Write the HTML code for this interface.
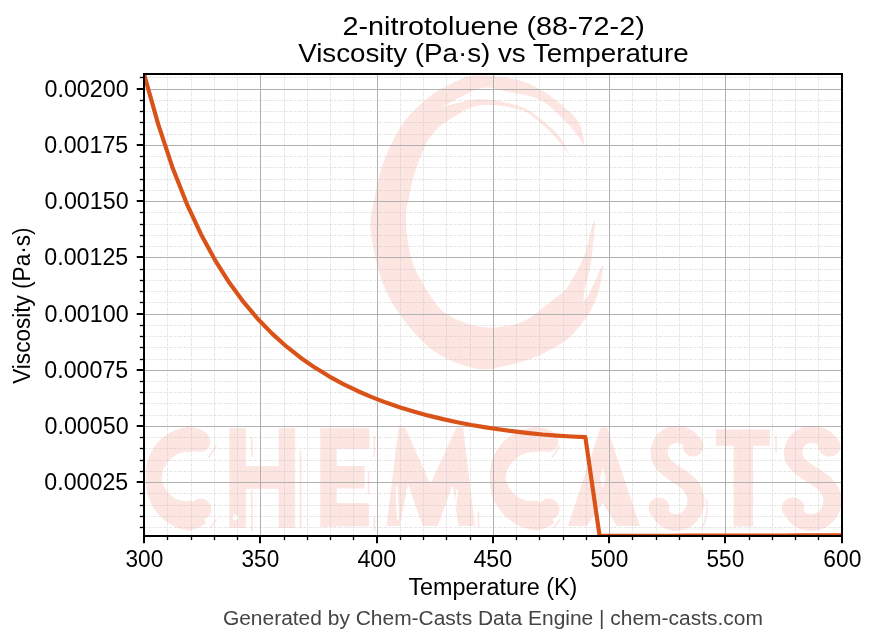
<!DOCTYPE html><html><head><meta charset="utf-8"><style>html,body{margin:0;padding:0;background:#fff;overflow:hidden}svg{display:block;will-change:transform}text{font-family:"Liberation Sans",sans-serif}</style></head><body>
<svg width="876" height="644" viewBox="0 0 876 644">
<defs><clipPath id="ax"><rect x="144.00" y="73.90" width="698.00" height="462.00"/></clipPath></defs>
<rect width="876" height="644" fill="#fff"/>
<g clip-path="url(#ax)">
<g fill="#fde5e1">
<path d="M585.0 148.6C584.1 144.4 583.0 130.6 579.4 123.6C575.8 116.6 570.2 112.1 563.6 106.4C557.0 100.7 548.1 93.8 539.8 89.2C531.5 84.6 524.5 81.3 514.0 79.0C503.5 76.7 485.8 75.3 476.7 75.5C467.6 75.7 466.8 76.7 459.3 79.9C451.9 83.1 440.9 88.2 432.0 94.8C423.1 101.4 412.7 111.3 405.9 119.6C399.1 127.9 395.1 136.2 391.0 144.5C386.9 152.8 383.7 161.0 381.1 169.3C378.5 177.6 377.2 184.8 375.4 194.1C373.6 203.4 370.5 214.5 370.5 225.0C370.5 235.5 373.4 247.7 375.4 257.2C377.4 266.7 379.1 273.7 382.3 282.0C385.5 290.3 389.5 298.6 394.7 306.9C399.9 315.2 406.8 324.3 413.4 331.7C420.0 339.1 426.9 346.1 434.5 351.5C442.1 356.9 451.0 361.0 459.3 364.0C467.6 367.0 476.7 369.1 484.1 369.5C491.6 369.9 496.0 367.9 504.0 366.1C512.0 364.3 522.6 362.1 531.9 358.5C541.2 354.9 552.9 348.7 559.9 344.5C566.9 340.3 569.1 338.2 573.8 333.3C578.4 328.4 584.1 320.9 587.8 315.1C591.5 309.3 594.2 303.1 596.2 298.4C598.2 293.7 598.4 292.6 599.7 287.0C601.0 281.4 603.1 268.7 603.8 265.0C603.3 265.6 602.2 265.3 600.6 268.4C599.0 271.4 596.3 278.6 594.1 283.3C591.9 288.0 589.4 293.4 587.6 296.3C585.8 299.2 584.2 300.2 583.5 301.0C583.7 299.0 583.8 293.9 584.8 288.8C585.8 283.7 588.2 276.4 589.5 270.2C590.8 264.0 591.4 258.6 592.3 251.6C593.1 244.6 594.3 233.3 594.6 228.0C594.9 222.7 594.2 220.9 594.1 219.5C593.5 221.6 591.9 226.7 590.5 232.0C589.1 237.3 587.9 245.2 585.7 251.6C583.5 258.0 580.6 264.0 577.4 270.2C574.1 276.4 569.9 284.1 566.2 288.8C562.5 293.5 558.4 295.4 555.0 298.2C551.6 301.0 549.8 302.3 545.9 305.4C542.0 308.4 536.6 313.5 531.9 316.5C527.2 319.5 522.5 321.9 517.9 323.5C513.2 325.1 508.6 325.6 504.0 326.3C499.4 327.0 495.8 328.1 490.0 327.7C484.2 327.3 476.4 326.4 469.2 324.2C462.0 322.0 452.7 318.0 446.9 314.3C441.1 310.6 438.6 307.3 434.5 301.9C430.4 296.5 425.9 289.4 422.0 282.0C418.1 274.6 413.6 267.5 410.9 257.2C408.2 246.9 406.1 230.5 405.9 220.0C405.7 209.5 408.0 202.5 409.6 194.1C411.2 185.7 413.1 177.6 415.8 169.3C418.5 161.0 422.7 150.7 425.8 144.5C428.9 138.3 430.6 136.2 434.5 132.0C438.4 127.8 441.8 124.1 449.4 119.6C457.0 115.1 468.2 106.8 480.0 105.2C491.8 103.6 510.0 106.9 520.0 109.7C530.0 112.5 533.2 116.8 539.8 122.2C546.4 127.6 554.4 136.1 559.6 142.0C564.8 147.9 568.9 155.2 570.8 157.9C568.9 154.4 564.8 143.4 559.6 136.8C554.4 130.2 546.4 123.4 539.8 118.3C533.2 113.2 530.0 109.6 520.0 106.4C510.0 103.2 493.0 99.2 480.0 99.3C467.0 99.4 448.2 105.9 441.9 107.2C448.2 104.1 469.5 91.3 480.0 88.6C490.5 85.9 494.8 89.2 504.8 91.1C514.8 93.0 530.0 95.0 539.8 99.8C549.6 104.5 557.0 113.2 563.6 119.6C570.2 126.0 575.8 133.2 579.4 138.0C583.0 142.8 584.1 146.8 585.0 148.6Z"/>
<path d="M204.4 431.4 L203.0 430.7 L201.6 430.1 L200.2 429.6 L198.7 429.0 L197.3 428.6 L195.8 428.2 L194.3 427.8 L192.8 427.5 L191.2 427.2 L189.7 427.0 L188.1 427.1 L186.6 427.3 L185.0 427.5 L183.5 427.8 L182.0 428.1 L180.5 428.5 L179.0 428.9 L177.6 429.4 L176.1 429.9 L174.7 430.4 L173.3 431.0 L171.9 431.7 L170.5 432.4 L169.2 433.1 L167.8 433.9 L166.5 434.7 L165.3 435.6 L164.1 436.5 L162.9 437.5 L161.7 438.5 L160.6 439.5 L159.5 440.5 L158.4 441.6 L157.4 442.8 L156.4 443.9 L155.4 445.1 L154.6 446.4 L153.7 447.6 L152.9 448.9 L152.1 450.2 L151.4 451.6 L150.7 452.9 L150.1 454.3 L149.5 455.7 L148.9 457.1 L148.4 458.5 L148.0 459.9 L147.6 461.4 L147.2 462.8 L146.9 464.3 L146.6 465.8 L146.4 467.2 L146.2 468.7 L146.1 470.2 L146.0 471.7 L145.9 473.2 L145.9 474.6 L146.0 476.1 L146.0 477.6 L145.9 479.0 L145.9 480.5 L145.9 482.0 L145.9 483.5 L146.0 485.0 L146.1 486.4 L146.3 487.9 L146.5 489.4 L146.7 490.9 L147.0 492.4 L147.4 493.8 L147.8 495.3 L148.2 496.7 L148.7 498.2 L149.3 499.6 L149.9 501.0 L150.5 502.4 L151.2 503.8 L151.9 505.1 L152.6 506.4 L153.4 507.7 L154.3 509.0 L155.2 510.3 L156.1 511.5 L157.1 512.7 L158.1 513.9 L159.1 515.1 L160.2 516.2 L161.3 517.3 L162.4 518.4 L163.6 519.4 L164.8 520.4 L166.1 521.4 L167.4 522.3 L168.7 523.2 L170.0 524.0 L171.4 524.8 L172.8 525.5 L174.3 526.2 L175.7 526.9 L177.2 527.5 L178.7 528.0 L180.3 528.5 L181.8 529.0 L183.4 529.4 L185.0 529.7 L186.6 530.0 L188.2 530.3 L189.8 530.5 L191.4 530.1 L193.0 529.6 L194.6 529.1 L196.1 528.6 L197.7 527.9 L199.1 527.3 L200.6 526.6 L202.0 525.8 L203.3 525.0 L204.7 524.1 L206.0 523.3 L198.7 503.2 L197.8 503.1 L196.9 502.9 L196.0 502.8 L195.2 502.6 L194.4 502.4 L193.6 502.1 L192.8 501.9 L192.0 501.5 L191.3 501.2 L190.6 500.9 L189.9 500.5 L189.2 500.7 L188.5 500.8 L187.8 500.9 L187.1 501.0 L186.4 501.0 L185.7 501.0 L184.9 501.0 L184.2 501.0 L183.5 501.0 L182.7 500.9 L182.0 500.8 L181.2 500.6 L180.5 500.5 L179.7 500.3 L179.0 500.1 L178.3 499.8 L177.5 499.5 L176.8 499.2 L176.1 498.9 L175.3 498.5 L174.6 498.2 L173.9 497.7 L173.2 497.3 L172.5 496.8 L171.8 496.3 L171.2 495.8 L170.5 495.2 L169.9 494.6 L169.3 494.0 L168.7 493.4 L168.1 492.7 L167.6 492.0 L167.1 491.3 L166.5 490.6 L166.0 489.8 L165.6 489.1 L165.1 488.3 L164.7 487.5 L164.3 486.6 L163.9 485.8 L163.5 484.9 L163.2 484.0 L162.9 483.2 L162.6 482.3 L162.3 481.3 L162.1 480.4 L161.9 479.5 L161.7 478.5 L161.6 477.5 L161.7 476.6 L161.8 475.6 L162.0 474.7 L162.2 473.7 L162.5 472.8 L162.7 471.9 L163.0 471.0 L163.3 470.1 L163.7 469.2 L164.0 468.4 L164.4 467.5 L164.8 466.7 L165.3 465.9 L165.7 465.1 L166.2 464.4 L166.7 463.6 L167.2 462.9 L167.8 462.2 L168.4 461.5 L168.9 460.8 L169.5 460.2 L170.1 459.6 L170.8 459.0 L171.4 458.4 L172.1 457.8 L172.7 457.3 L173.4 456.8 L174.1 456.3 L174.7 455.8 L175.4 455.4 L176.2 454.9 L176.9 454.6 L177.6 454.2 L178.3 453.8 L179.1 453.5 L179.8 453.3 L180.6 453.0 L181.4 452.8 L182.1 452.6 L182.9 452.4 L183.7 452.2 L184.4 452.1 L185.2 452.0 L186.0 451.9 L186.8 451.9 L187.5 451.9 L188.3 451.9 L189.1 451.9 L189.8 452.0 L190.6 451.8 L191.4 451.7 L192.1 451.5 L192.9 451.4 L193.7 451.3 L194.5 451.3 L195.4 451.2 L196.2 451.3 L197.0 451.3 L197.9 451.3Z"/>
<rect x="229.4" y="428.2" width="16.4" height="99.7"/><rect x="278.7" y="428.2" width="16.4" height="99.7"/><rect x="245" y="466.2" width="34" height="22.6"/>
<rect x="320.3" y="428.2" width="16.4" height="98.6"/><rect x="336" y="428.2" width="33.6" height="20.6"/><rect x="336" y="466" width="28.5" height="22.5"/><rect x="336" y="503" width="33" height="23.4"/>
<path d="M386.5 526 L398.6 427.5 L405.2 427.5 L430.3 484.3 L456.4 427.5 L463 427.5 L475 526 L458.3 526 L452.7 484.3 L437.8 526 L422.9 526 L408 484.3 L399.6 526Z"/>
<path d="M552.5 431.4 L551.0 430.7 L549.5 430.1 L548.0 429.6 L546.5 429.0 L544.9 428.6 L543.3 428.2 L541.7 427.8 L540.1 427.5 L538.5 427.2 L536.8 427.0 L535.2 427.1 L533.5 427.3 L531.9 427.5 L530.3 427.8 L528.7 428.1 L527.1 428.5 L525.5 428.9 L523.9 429.4 L522.4 429.9 L520.8 430.4 L519.3 431.0 L517.9 431.7 L516.4 432.4 L515.0 433.1 L513.6 433.9 L512.2 434.7 L510.8 435.6 L509.5 436.5 L508.3 437.5 L507.0 438.5 L505.8 439.5 L504.6 440.5 L503.5 441.6 L502.4 442.8 L501.3 443.9 L500.3 445.1 L499.4 446.4 L498.5 447.6 L497.6 448.9 L496.8 450.2 L496.0 451.6 L495.2 452.9 L494.6 454.3 L493.9 455.7 L493.3 457.1 L492.8 458.5 L492.3 459.9 L491.8 461.4 L491.4 462.8 L491.1 464.3 L490.8 465.8 L490.5 467.2 L490.3 468.7 L490.2 470.2 L490.1 471.7 L490.0 473.2 L490.0 474.6 L490.1 476.1 L490.1 477.6 L490.0 479.0 L490.0 480.5 L490.0 482.0 L490.0 483.5 L490.1 485.0 L490.2 486.4 L490.4 487.9 L490.7 489.4 L490.9 490.9 L491.3 492.4 L491.7 493.8 L492.1 495.3 L492.6 496.7 L493.1 498.2 L493.7 499.6 L494.3 501.0 L495.0 502.4 L495.7 503.8 L496.5 505.1 L497.3 506.4 L498.2 507.7 L499.1 509.0 L500.1 510.3 L501.1 511.5 L502.1 512.7 L503.2 513.9 L504.3 515.1 L505.4 516.2 L506.6 517.3 L507.8 518.4 L509.1 519.4 L510.4 520.4 L511.7 521.4 L513.1 522.3 L514.5 523.2 L516.0 524.0 L517.4 524.8 L518.9 525.5 L520.5 526.2 L522.0 526.9 L523.6 527.5 L525.2 528.0 L526.8 528.5 L528.5 529.0 L530.1 529.4 L531.8 529.7 L533.5 530.0 L535.2 530.3 L537.0 530.5 L538.7 530.1 L540.4 529.6 L542.1 529.1 L543.7 528.6 L545.3 527.9 L546.9 527.3 L548.4 526.6 L549.9 525.8 L551.4 525.0 L552.8 524.1 L554.2 523.3 L546.9 503.2 L545.9 503.1 L544.9 502.9 L544.0 502.8 L543.0 502.6 L542.1 502.4 L541.2 502.1 L540.3 501.9 L539.5 501.5 L538.6 501.2 L537.8 500.9 L537.1 500.5 L536.3 500.7 L535.5 500.8 L534.7 500.9 L533.9 501.0 L533.1 501.0 L532.2 501.0 L531.4 501.0 L530.6 501.0 L529.8 501.0 L528.9 500.9 L528.1 500.8 L527.2 500.6 L526.4 500.5 L525.6 500.3 L524.7 500.1 L523.9 499.8 L523.1 499.5 L522.3 499.2 L521.5 498.9 L520.6 498.5 L519.9 498.2 L519.1 497.7 L518.3 497.3 L517.5 496.8 L516.8 496.3 L516.1 495.8 L515.4 495.2 L514.7 494.6 L514.0 494.0 L513.4 493.4 L512.7 492.7 L512.1 492.0 L511.5 491.3 L511.0 490.6 L510.4 489.8 L509.9 489.1 L509.4 488.3 L509.0 487.5 L508.5 486.6 L508.1 485.8 L507.7 484.9 L507.3 484.0 L507.0 483.2 L506.7 482.3 L506.4 481.3 L506.2 480.4 L506.0 479.5 L505.8 478.5 L505.6 477.5 L505.8 476.6 L505.9 475.6 L506.1 474.7 L506.3 473.7 L506.6 472.8 L506.9 471.9 L507.2 471.0 L507.5 470.1 L507.9 469.2 L508.3 468.4 L508.7 467.5 L509.2 466.7 L509.6 465.9 L510.1 465.1 L510.7 464.4 L511.2 463.6 L511.8 462.9 L512.4 462.2 L513.0 461.5 L513.6 460.8 L514.3 460.2 L515.0 459.6 L515.7 459.0 L516.4 458.4 L517.1 457.8 L517.8 457.3 L518.5 456.8 L519.3 456.3 L520.1 455.8 L520.8 455.4 L521.6 454.9 L522.4 454.6 L523.3 454.2 L524.1 453.8 L524.9 453.5 L525.7 453.3 L526.6 453.0 L527.5 452.8 L528.3 452.6 L529.2 452.4 L530.0 452.2 L530.9 452.1 L531.8 452.0 L532.6 451.9 L533.5 451.9 L534.4 451.9 L535.2 451.9 L536.1 451.9 L537.0 452.0 L537.8 451.8 L538.7 451.7 L539.6 451.5 L540.5 451.4 L541.4 451.3 L542.3 451.3 L543.2 451.2 L544.1 451.3 L545.1 451.3 L546.0 451.3Z"/>
<path d="M567.9 526 L600.5 427.5 L607 427.5 L640 526 L617 526 L602.7 503 L586.7 526Z"/>
<rect x="716" y="429.4" width="53.9" height="16.3"/><rect x="733.6" y="444" width="19.5" height="82.5"/>
<g transform="translate(650.50 0) scale(1.0000 1) translate(-650.5 0)"><path d="M694 446 C690 432 665 429 660 447 C655 463 671 471 683 479 C698 489 699 505 691 515 C681 528 660 523 659 508" fill="none" stroke="#fde5e1" stroke-width="17" stroke-linecap="round"/><circle cx="693" cy="446" r="10.5"/><circle cx="659" cy="508" r="10.5"/></g>
<g transform="translate(783.90 0) scale(1.0699 1) translate(-650.5 0)"><path d="M694 446 C690 432 665 429 660 447 C655 463 671 471 683 479 C698 489 699 505 691 515 C681 528 660 523 659 508" fill="none" stroke="#fde5e1" stroke-width="17" stroke-linecap="round"/><circle cx="693" cy="446" r="10.5"/><circle cx="659" cy="508" r="10.5"/></g>
</g>
<g fill="none" stroke="#fde5e1" stroke-width="1.6" stroke-linecap="round">
<path d="M251.8 438V456M251.8 490V531M300.5 451V528M368.5 472V494M374.4 436V456M374.4 517V530M209 457L216 446M211 527L216 520"/>
<path d="M552.5 457L559.5 446M554.5 527L559.5 520"/>
<path d="M478.5 512V527M706.5 500Q709 515 702 528M776 436V452"/>
</g>
<g fill="#fff">
<path d="M602.7 467 L605.5 478 L602.7 488 L600 478Z"/>
<circle cx="235.5" cy="517.4" r="3"/><rect x="339.2" y="454" width="2" height="7.5"/>
<path d="M395.5 487L397.5 486L399 519L397 520Z M406 490L408 489L412 522L410 523Z M456 490L458 489L455 520L453 521Z"/>
</g>
<g fill="none" stroke="#fff" stroke-width="1.6" stroke-linecap="round">
<path d="M183.0 455 Q171.0 462 167.5 480"/>
<path d="M526.5 455 Q514.5 462 510.9 480"/>
</g>
<g fill="#fde5e1">
<circle cx="199.8" cy="441.4" r="10.6"/>
<circle cx="200.7" cy="509.3" r="10.7"/>
<circle cx="547.8" cy="441.4" r="10.6"/>
<circle cx="548.8" cy="509.3" r="10.7"/>
</g>
</g>
<g stroke="#c4c4c4" stroke-width="0.5" stroke-dasharray="2.3 0.9 0.9 0.9" fill="none">
<path d="M167.5 535.90V73.90"/>
<path d="M191.5 535.90V73.90"/>
<path d="M214.5 535.90V73.90"/>
<path d="M237.5 535.90V73.90"/>
<path d="M284.5 535.90V73.90"/>
<path d="M307.5 535.90V73.90"/>
<path d="M330.5 535.90V73.90"/>
<path d="M353.5 535.90V73.90"/>
<path d="M400.5 535.90V73.90"/>
<path d="M423.5 535.90V73.90"/>
<path d="M446.5 535.90V73.90"/>
<path d="M470.5 535.90V73.90"/>
<path d="M516.5 535.90V73.90"/>
<path d="M539.5 535.90V73.90"/>
<path d="M563.5 535.90V73.90"/>
<path d="M586.5 535.90V73.90"/>
<path d="M632.5 535.90V73.90"/>
<path d="M656.5 535.90V73.90"/>
<path d="M679.5 535.90V73.90"/>
<path d="M702.5 535.90V73.90"/>
<path d="M749.5 535.90V73.90"/>
<path d="M772.5 535.90V73.90"/>
<path d="M795.5 535.90V73.90"/>
<path d="M818.5 535.90V73.90"/>
<path d="M144.00 527.5H842.00"/>
<path d="M144.00 516.5H842.00"/>
<path d="M144.00 505.5H842.00"/>
<path d="M144.00 493.5H842.00"/>
<path d="M144.00 471.5H842.00"/>
<path d="M144.00 460.5H842.00"/>
<path d="M144.00 448.5H842.00"/>
<path d="M144.00 437.5H842.00"/>
<path d="M144.00 415.5H842.00"/>
<path d="M144.00 403.5H842.00"/>
<path d="M144.00 392.5H842.00"/>
<path d="M144.00 381.5H842.00"/>
<path d="M144.00 359.5H842.00"/>
<path d="M144.00 347.5H842.00"/>
<path d="M144.00 336.5H842.00"/>
<path d="M144.00 325.5H842.00"/>
<path d="M144.00 302.5H842.00"/>
<path d="M144.00 291.5H842.00"/>
<path d="M144.00 280.5H842.00"/>
<path d="M144.00 269.5H842.00"/>
<path d="M144.00 246.5H842.00"/>
<path d="M144.00 235.5H842.00"/>
<path d="M144.00 224.5H842.00"/>
<path d="M144.00 212.5H842.00"/>
<path d="M144.00 190.5H842.00"/>
<path d="M144.00 179.5H842.00"/>
<path d="M144.00 167.5H842.00"/>
<path d="M144.00 156.5H842.00"/>
<path d="M144.00 134.5H842.00"/>
<path d="M144.00 122.5H842.00"/>
<path d="M144.00 111.5H842.00"/>
<path d="M144.00 100.5H842.00"/>
<path d="M144.00 77.5H842.00"/>
</g>
<g stroke="#b0b0b0" stroke-width="1" fill="none">
<path d="M260.5 73.90V535.90"/>
<path d="M377.5 73.90V535.90"/>
<path d="M493.5 73.90V535.90"/>
<path d="M609.5 73.90V535.90"/>
<path d="M725.5 73.90V535.90"/>
<path d="M144.00 482.5H842.00"/>
<path d="M144.00 426.5H842.00"/>
<path d="M144.00 370.5H842.00"/>
<path d="M144.00 314.5H842.00"/>
<path d="M144.00 257.5H842.00"/>
<path d="M144.00 201.5H842.00"/>
<path d="M144.00 145.5H842.00"/>
<path d="M144.00 89.5H842.00"/>
</g>
<g clip-path="url(#ax)"><path d="M144.00 73.91 L158.24 124.43 L172.47 167.42 L186.71 203.58 L200.95 234.21 L215.18 260.32 L229.42 282.80 L243.66 302.19 L257.89 319.01 L272.13 333.65 L286.37 346.45 L300.60 357.69 L314.84 367.59 L329.08 376.34 L343.31 384.10 L357.55 390.99 L371.79 397.13 L386.02 402.58 L400.26 407.44 L414.50 411.77 L428.73 415.65 L442.97 419.12 L457.21 422.22 L471.44 424.99 L485.68 427.40 L499.92 429.54 L514.16 431.43 L528.39 433.10 L542.63 434.53 L556.87 435.64 L571.10 436.47 L585.34 437.05 L599.58 535.90 L613.81 535.86 L628.05 535.83 L642.29 535.80 L656.52 535.77 L670.76 535.73 L685.00 535.70 L699.23 535.67 L713.47 535.63 L727.71 535.60 L741.94 535.57 L756.18 535.53 L770.42 535.50 L784.65 535.47 L798.89 535.43 L813.13 535.40 L827.36 535.37 L841.60 535.34" fill="none" stroke="#d95319" stroke-width="4.17" stroke-linejoin="round" stroke-linecap="butt"/></g>
<g stroke="#000" fill="none">
<path d="M144.0 73.9H842.0V535.9H144.0Z" stroke-width="2" stroke-linejoin="miter"/>
</g><g stroke="#000" stroke-width="2">
<path d="M144.0 535.9V543.2"/>
<path d="M260.0 535.9V543.2"/>
<path d="M377.0 535.9V543.2"/>
<path d="M493.0 535.9V543.2"/>
<path d="M609.0 535.9V543.2"/>
<path d="M725.0 535.9V543.2"/>
<path d="M842.0 535.9V543.2"/>
<path d="M144.0 482.0H136.7"/>
<path d="M144.0 426.0H136.7"/>
<path d="M144.0 370.0H136.7"/>
<path d="M144.0 314.0H136.7"/>
<path d="M144.0 257.0H136.7"/>
<path d="M144.0 201.0H136.7"/>
<path d="M144.0 145.0H136.7"/>
<path d="M144.0 89.0H136.7"/>
</g><g stroke="#000" stroke-width="1.35">
<path d="M167.5 535.9V540.1"/>
<path d="M191.5 535.9V540.1"/>
<path d="M214.5 535.9V540.1"/>
<path d="M237.5 535.9V540.1"/>
<path d="M284.5 535.9V540.1"/>
<path d="M307.5 535.9V540.1"/>
<path d="M330.5 535.9V540.1"/>
<path d="M353.5 535.9V540.1"/>
<path d="M400.5 535.9V540.1"/>
<path d="M423.5 535.9V540.1"/>
<path d="M446.5 535.9V540.1"/>
<path d="M470.5 535.9V540.1"/>
<path d="M516.5 535.9V540.1"/>
<path d="M539.5 535.9V540.1"/>
<path d="M563.5 535.9V540.1"/>
<path d="M586.5 535.9V540.1"/>
<path d="M632.5 535.9V540.1"/>
<path d="M656.5 535.9V540.1"/>
<path d="M679.5 535.9V540.1"/>
<path d="M702.5 535.9V540.1"/>
<path d="M749.5 535.9V540.1"/>
<path d="M772.5 535.9V540.1"/>
<path d="M795.5 535.9V540.1"/>
<path d="M818.5 535.9V540.1"/>
<path d="M144.0 527.5H139.8"/>
<path d="M144.0 516.5H139.8"/>
<path d="M144.0 505.5H139.8"/>
<path d="M144.0 493.5H139.8"/>
<path d="M144.0 471.5H139.8"/>
<path d="M144.0 460.5H139.8"/>
<path d="M144.0 448.5H139.8"/>
<path d="M144.0 437.5H139.8"/>
<path d="M144.0 415.5H139.8"/>
<path d="M144.0 403.5H139.8"/>
<path d="M144.0 392.5H139.8"/>
<path d="M144.0 381.5H139.8"/>
<path d="M144.0 359.5H139.8"/>
<path d="M144.0 347.5H139.8"/>
<path d="M144.0 336.5H139.8"/>
<path d="M144.0 325.5H139.8"/>
<path d="M144.0 302.5H139.8"/>
<path d="M144.0 291.5H139.8"/>
<path d="M144.0 280.5H139.8"/>
<path d="M144.0 269.5H139.8"/>
<path d="M144.0 246.5H139.8"/>
<path d="M144.0 235.5H139.8"/>
<path d="M144.0 224.5H139.8"/>
<path d="M144.0 212.5H139.8"/>
<path d="M144.0 190.5H139.8"/>
<path d="M144.0 179.5H139.8"/>
<path d="M144.0 167.5H139.8"/>
<path d="M144.0 156.5H139.8"/>
<path d="M144.0 134.5H139.8"/>
<path d="M144.0 122.5H139.8"/>
<path d="M144.0 111.5H139.8"/>
<path d="M144.0 100.5H139.8"/>
<path d="M144.0 77.5H139.8"/>
</g>
<text x="342.52" y="35.00" font-size="26.50" fill="#000" textLength="302.24" lengthAdjust="spacingAndGlyphs">2-nitrotoluene (88-72-2)</text>
<text x="298.17" y="62.00" font-size="26.50" fill="#000" textLength="390.50" lengthAdjust="spacingAndGlyphs">Viscosity (Pa·s) vs Temperature</text>
<text x="222.93" y="624.70" font-size="19.95" fill="#444444" textLength="539.94" lengthAdjust="spacingAndGlyphs">Generated by Chem-Casts Data Engine | chem-casts.com</text>
<text x="44.39" y="490.34" font-size="23.00" fill="#000" textLength="83.80" lengthAdjust="spacingAndGlyphs">0.00025</text>
<text x="44.52" y="434.25" font-size="23.00" fill="#000" textLength="84.09" lengthAdjust="spacingAndGlyphs">0.00050</text>
<text x="44.39" y="378.34" font-size="23.00" fill="#000" textLength="83.80" lengthAdjust="spacingAndGlyphs">0.00075</text>
<text x="44.52" y="322.25" font-size="23.00" fill="#000" textLength="84.09" lengthAdjust="spacingAndGlyphs">0.00100</text>
<text x="44.39" y="265.34" font-size="23.00" fill="#000" textLength="83.80" lengthAdjust="spacingAndGlyphs">0.00125</text>
<text x="44.52" y="209.25" font-size="23.00" fill="#000" textLength="84.09" lengthAdjust="spacingAndGlyphs">0.00150</text>
<text x="44.39" y="153.34" font-size="23.00" fill="#000" textLength="83.80" lengthAdjust="spacingAndGlyphs">0.00175</text>
<text x="44.52" y="97.25" font-size="23.00" fill="#000" textLength="84.09" lengthAdjust="spacingAndGlyphs">0.00200</text>
<text x="125.51" y="567.43" font-size="23.00" fill="#000" textLength="37.69" lengthAdjust="spacingAndGlyphs">300</text>
<text x="241.51" y="567.43" font-size="23.00" fill="#000" textLength="37.69" lengthAdjust="spacingAndGlyphs">350</text>
<text x="357.43" y="567.00" font-size="23.00" fill="#000" textLength="38.83" lengthAdjust="spacingAndGlyphs">400</text>
<text x="473.43" y="567.00" font-size="23.00" fill="#000" textLength="38.83" lengthAdjust="spacingAndGlyphs">450</text>
<text x="590.51" y="567.41" font-size="23.00" fill="#000" textLength="37.71" lengthAdjust="spacingAndGlyphs">500</text>
<text x="706.51" y="567.41" font-size="23.00" fill="#000" textLength="37.71" lengthAdjust="spacingAndGlyphs">550</text>
<text x="823.29" y="567.40" font-size="23.00" fill="#000" textLength="38.08" lengthAdjust="spacingAndGlyphs">600</text>
<text x="408.42" y="595.00" font-size="23.00" fill="#000" textLength="168.94" lengthAdjust="spacingAndGlyphs">Temperature (K)</text>
<text transform="translate(29.90,383.80) rotate(-90)" font-size="23.00" fill="#000" textLength="156.33" lengthAdjust="spacingAndGlyphs">Viscosity (Pa·s)</text>
</svg></body></html>
